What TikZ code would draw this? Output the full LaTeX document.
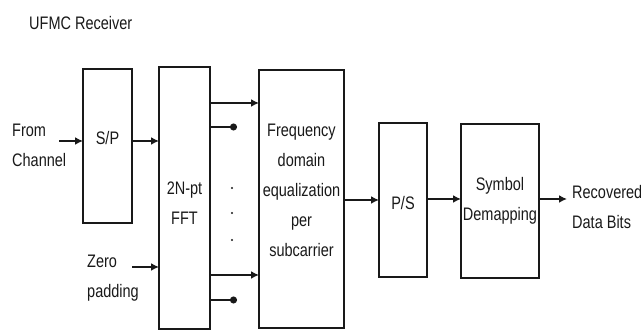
\documentclass[tikz,border=0pt]{standalone}
\usepackage{fontspec}
\setmainfont{Liberation Sans}
\usetikzlibrary{arrows.meta,positioning}
\definecolor{inkgray}{RGB}{25,25,25}

\tikzset{
  blk/.style={draw=inkgray,line width=1.6pt,minimum width=#1,inner sep=0pt,outer sep=0pt},
  txt/.style={font=\fontsize{14.5}{24}\selectfont,text=inkgray,yscale=1.25,inner sep=0pt,align=center},
  arr/.style={draw=inkgray,line width=1.6pt,-{Latex[length=8pt,width=8pt]}},
  dotend/.style={draw=inkgray,line width=1.6pt,-{Circle[length=7pt]}}
}

\begin{document}
\begin{tikzpicture}[x=1pt,y=1pt]
\useasboundingbox (0,0) rectangle (641,331);
\node[txt,anchor=west] (title) at (29,308) {UFMC Receiver};
% blocks
\node[blk=49pt,minimum height=154pt,label={[txt,yshift=6pt]center:S/P}] (sp) at (107.5,185) {};
\node[blk=51pt,minimum height=262pt,label={[txt,yshift=-4.5pt]center:2N-pt\\FFT}] (fft) at (184.5,133) {};
\node[blk=85pt,minimum height=258pt,label={[txt,yshift=7pt]center:Frequency\\domain\\equalization\\per\\subcarrier}] (freq) at (301.5,132) {};
\node[blk=48pt,minimum height=154pt,label={[txt,yshift=-2.5pt]center:P/S}] (ps) at (403,131) {};
\node[blk=78pt,minimum height=154pt,label={[txt]center:Symbol\\Demapping}] (sd) at (500,130) {};
% side texts
\node[txt,anchor=west,align=left] (src) at (12,186) {From\\Channel};
\node[txt,anchor=west,align=left] (zp) at (87,53) {Zero\\padding};
\node[txt,anchor=west,align=left] (out) at (572,124) {Recovered\\Data Bits};
\coordinate (srcend) at (59,190);
\coordinate (zpend) at (132,64);
\coordinate (outend) at (567,132);
% connectors
\draw[arr] (srcend) -- (sp.west |- srcend);
\draw[arr] (sp.east |- srcend) -- (fft.west |- srcend);
\draw[arr] (zpend) -- (fft.west |- zpend);
\draw[arr] (fft.east |- 0,228) -- (freq.west |- 0,228);
\draw[dotend] (fft.east |- 0,204) -- (237,204) coordinate (d1);
\draw[arr] (fft.east |- 0,56) -- (freq.west |- 0,56);
\draw[dotend] (fft.east |- 0,31) -- (237,31) coordinate (d2);
\foreach \y in {143,118,91}{\fill[inkgray] (232,\y) circle (1.2pt);}
\draw[arr] (freq.east |- ps) -- (ps.west);
\draw[arr] (ps.east |- 0,132) -- (sd.west |- 0,132);
\draw[arr] (sd.east |- outend) -- (outend);
\end{tikzpicture}
\end{document}
